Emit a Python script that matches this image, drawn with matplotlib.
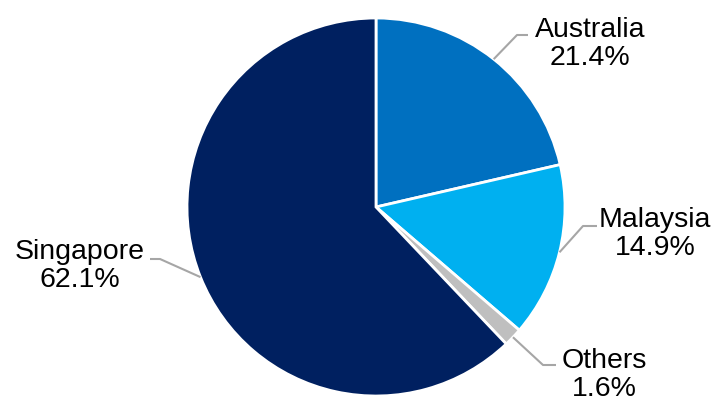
import numpy as np
import matplotlib
matplotlib.use("Agg")
import matplotlib.pyplot as plt

plt.rcParams['font.family'] = ['Liberation Sans', 'DejaVu Sans']

labels = ['Australia', 'Malaysia', 'Others', 'Singapore']
shares = [21.4, 14.9, 1.6, 62.1]
colors = ['#0070C0', '#00B0F0', '#BFBFBF', '#002060']

# label placement (pixel coords, y down): elbow point, line end, text centre
elbows = [(517, 35), (583, 226), (543, 365), (160, 259)]
ends = [(528, 35), (597, 226), (556, 365), (150, 259)]
text_pos = [(590, 44), (655, 234), (604, 375), (80, 266)]

W, H = 717, 400
fig = plt.figure(figsize=(W / 100, H / 100), dpi=100)
ax = fig.add_axes([0, 0, 1, 1])

cx, cy, r = 376, 400 - 207, 189
wedges, _ = ax.pie(shares, colors=colors, startangle=90, counterclock=False,
                   center=(cx, cy), radius=r, frame=True,
                   wedgeprops=dict(edgecolor='white', linewidth=2))
ax.set_xlim(0, W)
ax.set_ylim(0, H)
ax.set_aspect('equal')
ax.axis('off')

for w, lab, val, el, en, tp in zip(wedges, labels, shares, elbows, ends, text_pos):
    ang = np.deg2rad((w.theta1 + w.theta2) / 2)
    x0 = cx + r * np.cos(ang)
    y0 = cy + r * np.sin(ang)
    ax.plot([x0, el[0], en[0]], [y0, H - el[1], H - en[1]],
            color='#A6A6A6', lw=1.5, solid_capstyle='butt', zorder=3)
    ax.text(tp[0], H - tp[1], f'{lab}\n{val:.1f}%', ha='center', va='center',
            fontsize=20.5, color='black', linespacing=1.12)

fig.savefig('out.png', dpi=100)
